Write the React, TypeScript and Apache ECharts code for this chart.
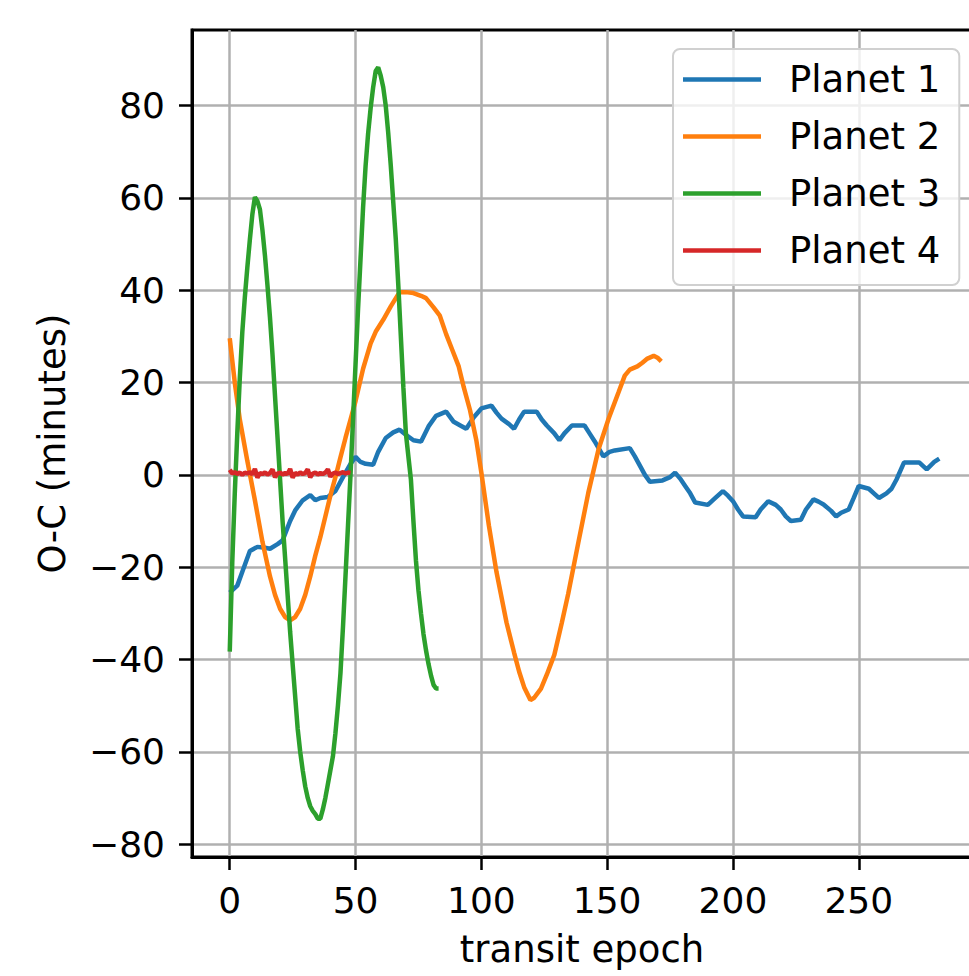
import React, { useEffect, useRef } from "react";
import * as echarts from "echarts";

const seriesNames = ["Planet 1", "Planet 2", "Planet 3", "Planet 4"];
const seriesColors = ["#1f77b4", "#ff7f0e", "#2ca02c", "#d62728"];
const xTicks = [0, 50, 100, 150, 200, 250];
const yTicks = [-80, -60, -40, -20, 0, 20, 40, 60, 80];

const p1Epoch = [0, 3, 5, 8, 11, 14, 16, 19, 21, 24, 26, 29, 32, 34, 36, 39, 42, 45, 48, 50, 52, 54, 57, 59, 62, 65, 67.5, 70, 73, 76, 79, 82, 86, 89, 92, 94, 97, 100, 104, 106, 108, 111, 113, 115, 117, 122, 124, 126, 129, 131, 133, 136, 141, 143, 145, 148.5, 151, 153, 159, 161, 163, 165, 167, 172, 175, 177, 179, 181, 183, 185, 190, 193, 196, 198, 200, 202, 204, 209, 211, 214, 217, 219, 221, 223, 227, 229, 232, 234, 236, 239, 241, 243, 246, 248, 250, 254, 256, 258, 261, 263, 265, 268, 274, 277, 280, 282];
const p1OC = [-25.5, -24, -21, -16.5, -15.6, -15.8, -16, -15, -14.2, -10, -7.7, -5.5, -4.4, -5.5, -5, -4.8, -3.5, -0.5, 2.4, 3.9, 2.8, 2.4, 2.2, 5, 8, 9.2, 9.8, 8.7, 7.5, 7.2, 10.5, 12.8, 13.7, 11.5, 10.6, 10, 12.5, 14.4, 15, 13.5, 12.2, 11, 10, 12, 13.7, 13.7, 12, 10.7, 9, 7.5, 9, 10.7, 10.7, 9, 7.3, 4, 5, 5.3, 5.8, 4, 2, 0, -1.5, -1.2, -0.5, 0.5, -0.8, -2.4, -4, -6, -6.5, -5, -3.5, -4.5, -5.7, -7.5, -9, -9.2, -7.5, -5.7, -6.5, -7.5, -9, -10, -9.7, -7.5, -5.3, -5.8, -6.4, -7.8, -9, -8.2, -7.5, -5, -2.4, -3, -4, -5, -4, -3, -1, 2.7, 2.7, 1.2, 2.8, 3.5];

const p2Epoch = [0, 2, 4, 7, 10, 13, 16, 18, 20, 22, 24, 26, 28, 30, 32, 34, 36, 38, 40, 42, 44, 46, 48, 50, 53, 56, 58, 61, 64, 67.5, 70, 73, 76, 78, 81, 83.5, 86, 88.5, 91, 93, 95.5, 98, 100, 103, 106, 110, 113, 115, 117, 119.5, 121, 123.7, 126, 129, 132, 134.5, 138.5, 142.5, 146.6, 150.6, 154.6, 157, 159, 162, 164, 166, 168.5, 170, 171.5];
const p2OC = [29.6, 20, 12, 3, -5.5, -14.5, -22, -26, -29, -30.8, -31.5, -30.8, -29, -26, -22, -17.5, -13.5, -9, -4.5, -0.5, 3.8, 8, 12, 16, 23, 28.5, 31, 33.6, 36.5, 39.6, 39.6, 39.4, 38.8, 38.3, 36.3, 34.5, 30.5, 27, 23.5, 19, 14, 7.5, 0.5, -11, -21, -32, -38.5, -42.6, -46, -48.8, -48.3, -46.3, -43.3, -39, -32, -25.8, -14.8, -3.9, 5.6, 12.2, 18, 21.5, 22.8, 23.5, 24.3, 25.2, 25.8, 25.4, 24.6];

const p3Epoch = [0, 1, 2, 3, 4, 5, 6, 7, 8, 9, 10, 11, 12, 13, 14, 15, 16, 17, 18, 19, 20, 21, 22, 23, 24, 25, 26, 27, 28, 29, 30, 31, 32, 33, 34, 35, 36, 37, 38, 39, 40, 41, 42, 43, 44, 45, 46, 47, 48, 49, 50, 51, 52, 53, 54, 55, 56, 57, 58, 59, 60, 61, 62, 63, 64, 65, 66, 67, 68, 69, 70, 71, 72, 73, 74, 75, 76, 77, 78, 79, 80, 81, 82, 83];
const p3OC = [-38.3, -19, -4, 9, 21, 31, 38.5, 45, 51, 56.5, 60.2, 59.3, 57.5, 53, 47.5, 41, 34, 26, 17, 8, -1, -10, -18, -26, -34, -41, -48, -55, -60, -64, -67.5, -70, -71.8, -72.8, -73.5, -74.5, -74.5, -72.5, -70, -67, -64, -61, -56, -50, -43, -33, -22, -11, 0, 12, 24, 36, 47, 58, 67, 74, 79.5, 84, 87.5, 88.3, 86.5, 84, 80, 74, 67, 59, 51, 41, 30, 19, 9, 4, -1, -10, -18.5, -25, -30, -34.5, -38, -41, -43.5, -45.5, -46.3, -46.3];

const p4Epoch = [0, 1, 2, 3, 4, 5, 6, 7, 8, 9, 10, 11, 12, 13, 14, 15, 16, 17, 18, 19, 20, 21, 22, 23, 24, 25, 26, 27, 28, 29, 30, 31, 32, 33, 34, 35, 36, 37, 38, 39, 40, 41, 42, 43, 44, 45, 46, 47, 48];
const p4OC = [1.1, 0.3, 0.6, 0.2, 0.5, 0.0, 0.5, 0.3, 0.6, 0.1, 1.3, -0.6, 0.4, 0.2, 0.5, 0.1, 0.4, 1.2, -0.5, 0.3, 0.5, 0.1, 0.4, 0.2, 1.3, -0.6, 0.4, 0.1, 0.5, 0.2, 0.4, 1.2, -0.5, 0.3, 0.5, 0.1, 0.4, 0.2, 0.5, 1.2, -0.4, 0.3, 0.5, 0.2, 0.4, 0.6, 0.3, 0.5, 0.4];

const FONT = "DejaVu Sans";

export default function App() {
  const ref = useRef<HTMLDivElement>(null);
  useEffect(() => {
    if (!ref.current) return;
    const chart = echarts.init(ref.current, null, { renderer: "svg" });
    const zip = (xs: number[], ys: number[]) => xs.map((x, i) => [x, ys[i]]);
    const datasets = [zip(p1Epoch, p1OC), zip(p2Epoch, p2OC), zip(p3Epoch, p3OC), zip(p4Epoch, p4OC)];
    const minus = (v: number) => String(v).replace("-", "\u2212");
    chart.setOption({
      animation: false,
      backgroundColor: "#ffffff",
      textStyle: { fontFamily: FONT },
      grid: {
        left: 192,
        top: 30,
        width: 780,
        height: 827,
        show: true,
        borderColor: "#000",
        borderWidth: 3,
        backgroundColor: "transparent",
        containLabel: false,
        outerBoundsMode: "none",
      },
      legend: {
        orient: "vertical",
        left: 673,
        top: 49,
        padding: [12, 19, 16, 10],
        itemGap: 20,
        itemWidth: 78,
        itemHeight: 4.5,
        icon: "rect",
        backgroundColor: "rgba(255,255,255,0.8)",
        borderColor: "#d0d0d0",
        borderWidth: 2,
        borderRadius: 7,
        data: seriesNames,
        textStyle: { fontFamily: FONT, fontSize: 37, color: "#000", padding: [0, 0, 0, 23] },
      },
      xAxis: {
        type: "value",
        min: -15,
        max: 295,
        name: "transit epoch",
        nameLocation: "middle",
        nameGap: 74,
        nameTextStyle: { fontFamily: FONT, fontSize: 37, color: "#000" },
        axisLine: { show: true, onZero: false, lineStyle: { color: "#000", width: 3 } },
        axisTick: { show: true, length: 13, customValues: xTicks, lineStyle: { color: "#000", width: 2.5 } },
        axisLabel: { customValues: xTicks, fontFamily: FONT, fontSize: 36, color: "#000", margin: 25, formatter: minus },
        splitLine: { show: true, lineStyle: { color: "#b0b0b0", width: 2.5 } },
      },
      yAxis: {
        type: "value",
        min: -82.8,
        max: 96.4,
        name: "O-C (minutes)",
        nameLocation: "middle",
        nameRotate: 90,
        nameGap: 121,
        nameTextStyle: { fontFamily: FONT, fontSize: 37, color: "#000" },
        axisLine: { show: true, onZero: false, lineStyle: { color: "#000", width: 3 } },
        axisTick: { show: true, length: 13, customValues: yTicks, lineStyle: { color: "#000", width: 2.5 } },
        axisLabel: { customValues: yTicks, fontFamily: FONT, fontSize: 36, color: "#000", margin: 27, formatter: minus },
        splitLine: { show: true, lineStyle: { color: "#b0b0b0", width: 2.5 } },
      },
      series: datasets.map((d, i) => ({
        name: seriesNames[i],
        type: "line",
        data: d,
        symbol: "none",
        showSymbol: false,
        color: seriesColors[i],
        lineStyle: { color: seriesColors[i], width: 4.5 },
        z: 2 + i * 0.01,
      })),
    });
    return () => chart.dispose();
  }, []);
  return (
    <div
      ref={ref}
      style={{ position: "fixed", left: 0, top: 0, width: 969, height: 976, background: "#fff" }}
    />
  );
}
